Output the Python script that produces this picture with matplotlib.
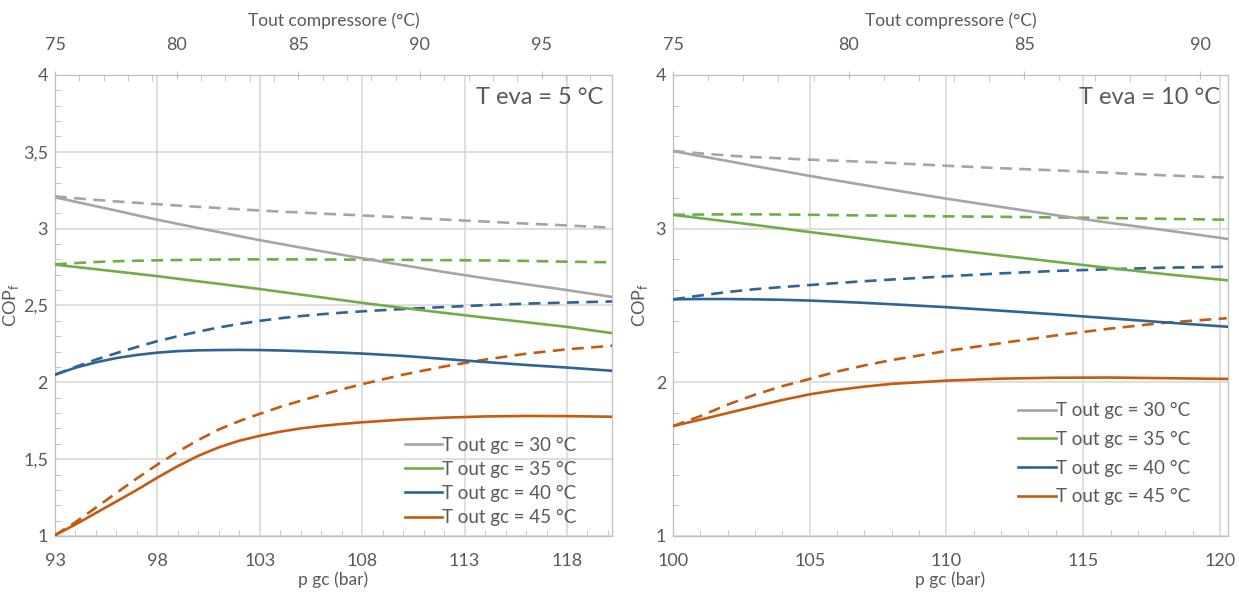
import matplotlib.pyplot as plt
from matplotlib.lines import Line2D
from matplotlib.ticker import MultipleLocator, FuncFormatter

plt.rcParams['font.family'] = ['Lato', 'DejaVu Sans']

# T eva = 5 °C
p5 = [93, 94, 95, 96, 97, 98, 99, 100, 101, 102, 103, 104, 105, 106, 107, 108,
      110, 112, 114, 116, 118, 120.2]
cop5_30 = [3.204, 3.175, 3.146, 3.117, 3.087, 3.058, 3.031, 3.004, 2.978, 2.951, 2.925,
           2.901, 2.877, 2.853, 2.830, 2.807, 2.762, 2.718, 2.677, 2.638, 2.600, 2.556]
cop5_30d = [3.210, 3.198, 3.187, 3.177, 3.168, 3.159, 3.150, 3.142, 3.134, 3.126, 3.118,
            3.111, 3.105, 3.098, 3.092, 3.086, 3.073, 3.059, 3.046, 3.033, 3.021, 3.006]
cop5_35 = [2.766, 2.751, 2.736, 2.721, 2.706, 2.691, 2.674, 2.657, 2.641, 2.624, 2.607,
           2.589, 2.571, 2.553, 2.535, 2.517, 2.484, 2.452, 2.421, 2.391, 2.361, 2.320]
cop5_35d = [2.768, 2.776, 2.783, 2.788, 2.791, 2.794, 2.796, 2.798, 2.799, 2.800, 2.800,
            2.800, 2.800, 2.799, 2.799, 2.798, 2.797, 2.795, 2.793, 2.790, 2.785, 2.781]
cop5_40 = [2.050, 2.095, 2.130, 2.158, 2.178, 2.193, 2.203, 2.208, 2.210, 2.211, 2.210,
           2.207, 2.203, 2.198, 2.193, 2.187, 2.172, 2.152, 2.132, 2.113, 2.096, 2.075]
cop5_40d = [2.050, 2.100, 2.148, 2.190, 2.230, 2.268, 2.300, 2.330, 2.357, 2.380, 2.400,
            2.417, 2.431, 2.443, 2.453, 2.462, 2.477, 2.490, 2.502, 2.512, 2.519, 2.526]
cop5_45 = [1.005, 1.075, 1.150, 1.225, 1.300, 1.380, 1.455, 1.522, 1.577, 1.620, 1.652,
           1.679, 1.700, 1.716, 1.729, 1.740, 1.758, 1.770, 1.778, 1.781, 1.780, 1.776]
cop5_45d = [1.005, 1.090, 1.185, 1.280, 1.375, 1.465, 1.548, 1.625, 1.693, 1.748, 1.795,
            1.840, 1.880, 1.918, 1.954, 1.988, 2.050, 2.103, 2.148, 2.186, 2.215, 2.238]

# T eva = 10 °C
p10 = [100, 101, 102, 103, 104, 105, 106, 107, 108, 110, 112, 114, 116, 118, 120.25]
cop10_30 = [3.505, 3.472, 3.440, 3.407, 3.375, 3.343, 3.313, 3.283, 3.253, 3.195, 3.141,
            3.088, 3.037, 2.990, 2.934]
cop10_30d = [3.505, 3.490, 3.476, 3.465, 3.457, 3.449, 3.442, 3.435, 3.427, 3.409, 3.393,
             3.379, 3.363, 3.347, 3.332]
cop10_35 = [3.090, 3.068, 3.046, 3.024, 3.001, 2.978, 2.956, 2.933, 2.911, 2.867, 2.825,
            2.784, 2.743, 2.704, 2.664]
cop10_35d = [3.090, 3.092, 3.093, 3.093, 3.092, 3.090, 3.088, 3.086, 3.084, 3.080, 3.077,
             3.073, 3.069, 3.064, 3.058]
cop10_40 = [2.540, 2.542, 2.542, 2.540, 2.537, 2.532, 2.525, 2.517, 2.508, 2.489, 2.466,
            2.442, 2.416, 2.390, 2.362]
cop10_40d = [2.540, 2.565, 2.588, 2.606, 2.620, 2.633, 2.646, 2.658, 2.669, 2.690, 2.709,
             2.725, 2.736, 2.746, 2.752]
cop10_45 = [1.715, 1.757, 1.800, 1.843, 1.885, 1.922, 1.950, 1.972, 1.990, 2.011, 2.024,
            2.030, 2.031, 2.027, 2.022]
cop10_45d = [1.715, 1.780, 1.855, 1.920, 1.975, 2.022, 2.070, 2.110, 2.145, 2.204, 2.255,
             2.305, 2.350, 2.388, 2.417]

labels = ['T out gc = 30 °C', 'T out gc = 35 °C', 'T out gc = 40 °C', 'T out gc = 45 °C']
colors = ['#A5A5A5', '#70AD47', '#2E6496', '#C55A11']

txt = '#595959'
grid = '#D9D9D9'
fmt = FuncFormatter(lambda v, pos: ('%g' % v).replace('.', ','))


def pannello(ax, p, solide, tratteggiate, xlim, xoff, xtop, ymin_step, ygrid, titolo,
             leg_pos, leg_sp, ylab_x):
    for y, c in zip(tratteggiate, colors):
        ax.plot(p, y, color=c, lw=1.9, dashes=(4.5, 2.8), zorder=3)
    for y, c in zip(solide, colors):
        ax.plot(p, y, color=c, lw=1.9, zorder=4)
    ax.set_xlim(*xlim)
    ax.set_ylim(1, 4)
    ax.xaxis.set_major_locator(MultipleLocator(5, offset=xoff))
    ax.xaxis.set_minor_locator(MultipleLocator(1))
    ax.yaxis.set_major_locator(MultipleLocator(ygrid))
    ax.yaxis.set_minor_locator(MultipleLocator(ymin_step))
    ax.yaxis.set_major_formatter(fmt)
    ax.grid(True, which='major', color=grid, lw=1.2, zorder=0)
    ax.tick_params(which='both', direction='in', colors='#BFBFBF', labelcolor=txt,
                   labelsize=13)
    ax.tick_params(axis='x', pad=12)
    ax.tick_params(axis='y', pad=5)
    ax.tick_params(which='major', length=0)
    ax.tick_params(which='minor', length=4)
    for s in ax.spines.values():
        s.set_color('#BFBFBF')
        s.set_linewidth(0.9)
    ax.set_xlabel('p gc (bar)', color=txt, fontsize=12.5, labelpad=2)
    ax.set_ylabel('COP$_\\mathregular{f}$', color=txt, fontsize=13)
    ax.yaxis.set_label_coords(ylab_x, 0.5)

    ax2 = ax.twiny()
    ax2.set_xlim(*xtop)
    ax2.xaxis.set_major_locator(MultipleLocator(5))
    ax2.xaxis.set_minor_locator(MultipleLocator(1))
    ax2.tick_params(which='both', direction='in', colors='#BFBFBF', labelcolor=txt,
                    labelsize=13, pad=13)
    ax2.tick_params(which='major', length=6, direction='inout')
    ax2.tick_params(which='minor', length=4)
    for s in ax2.spines.values():
        s.set_visible(False)
    ax2.set_xlabel('Tout compressore (°C)', color=txt, fontsize=12.5, labelpad=8)

    ax.text(0.985, 0.952, titolo, transform=ax.transAxes, ha='right', va='center',
            color=txt, fontsize=17)
    handles = [Line2D([], [], color=c, lw=1.9) for c in colors]
    ax.legend(handles, labels, loc='lower right', bbox_to_anchor=leg_pos, frameon=False,
              handlelength=2.0, handletextpad=0.0, labelspacing=leg_sp,
              fontsize=13.5, labelcolor=txt, borderaxespad=0)


fig = plt.figure(figsize=(12.39, 5.96), dpi=100)
ax_a = fig.add_axes([0.0444, 0.1007, 0.4496, 0.7735])
ax_b = fig.add_axes([0.5432, 0.1007, 0.4480, 0.7735])

pannello(ax_a, p5, [cop5_30, cop5_35, cop5_40, cop5_45],
         [cop5_30d, cop5_35d, cop5_40d, cop5_45d],
         (93, 120.2), 3, (75, 97.9), 0.1, 0.5, 'T eva = 5 °C', (0.95, 0.005), 0.38, -0.061)
pannello(ax_b, p10, [cop10_30, cop10_35, cop10_40, cop10_45],
         [cop10_30d, cop10_35d, cop10_40d, cop10_45d],
         (100, 120.3), 0, (75, 90.8), 0.2, 1, 'T eva = 10 °C', (0.945, 0.05), 0.62, -0.042)

fig.savefig('out.png', dpi=100)
